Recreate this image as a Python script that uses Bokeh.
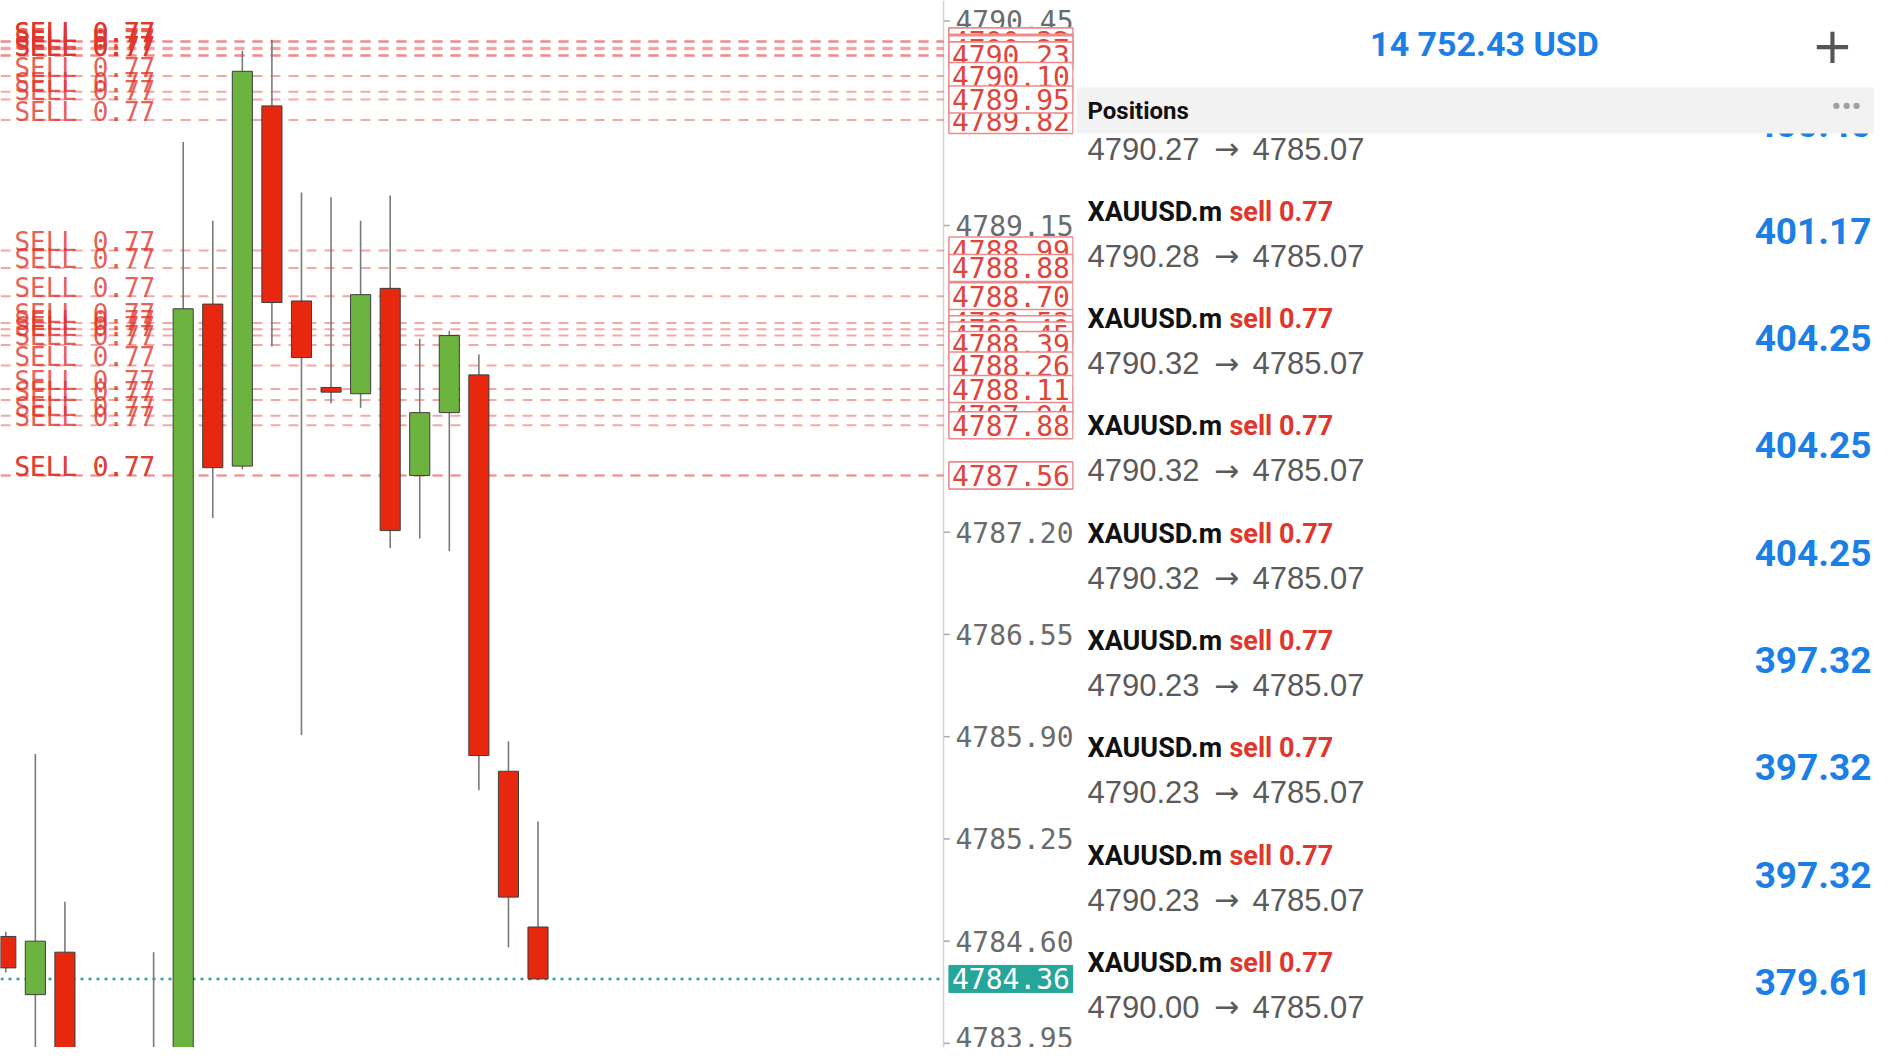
from bokeh.plotting import figure
from bokeh.layouts import row
from bokeh.models import Range1d, FixedTicker, Label, PrintfTickFormatter, ColumnDataSource
from bokeh.core.properties import value
from bokeh.embed import file_html
from bokeh.resources import INLINE

# ---------------- data ----------------
candle_idx = list(range(19))
opens  = [4784.63, 4784.26, 4784.53, 4783.45, 4783.20, 4783.60, 4783.10, 4788.65, 4787.62, 4789.91,
          4788.67, 4788.12, 4788.08, 4788.75, 4787.56, 4787.96, 4788.20, 4785.68, 4784.69]
highs  = [4784.66, 4785.79, 4784.85, 4783.70, 4783.75, 4784.53, 4789.68, 4789.18, 4790.26, 4790.33,
          4789.36, 4789.33, 4789.18, 4789.34, 4788.43, 4788.48, 4788.33, 4785.87, 4785.36]
lows   = [4784.40, 4783.50, 4783.20, 4783.00, 4782.90, 4782.95, 4783.00, 4787.29, 4787.60, 4788.38,
          4785.91, 4788.02, 4787.99, 4787.10, 4787.16, 4787.08, 4785.56, 4784.56, 4784.36]
closes = [4784.43, 4784.60, 4783.40, 4783.20, 4783.55, 4783.10, 4788.62, 4787.61, 4790.13, 4788.66,
          4788.31, 4788.09, 4788.71, 4787.21, 4787.96, 4788.45, 4785.78, 4784.88, 4784.36]

sell_prices = [4790.32, 4790.32, 4790.32, 4790.28, 4790.27, 4790.23, 4790.23, 4790.23, 4790.00,
               4790.10, 4789.82, 4789.95,
               4788.99, 4788.88, 4788.70, 4788.53, 4788.49, 4788.45, 4788.39, 4788.04, 4787.94,
               4788.26, 4788.11, 4787.88, 4787.56, 4787.56]
sell_label = "SELL 0.77"
current_price = 4784.36
price_ticks = [4783.95, 4784.60, 4785.25, 4785.90, 4786.55, 4787.20, 4789.15, 4790.45]

balance_text = "14 752.43 USD"
header_title = "Positions"
symbols = ["XAUUSD.m"] * 10
sides = ["sell 0.77"] * 10
open_px = ["4790.27", "4790.28", "4790.32", "4790.32", "4790.32", "4790.23", "4790.23", "4790.23", "4790.00", "4790.10"]
now_px = ["4785.07"] * 10
profits = ["400.40", "401.17", "404.25", "404.25", "404.25", "397.32", "397.32", "397.32", "379.61", "387.31"]

# ---------------- styles / layout ----------------
UP, DOWN = "#6db33f", "#e8270f"
SELL_RED = "#e0352a"
TEAL = "#26a69a"
BLUE = "#1c7fe6"
TOTAL_W, H = 1874, 1047
LEFT_W = 1076
X0, X1 = -0.179, 36.11         # candle-index range across the chart + price column
AXIS_X = 31.727                # where the price scale line sits
Y0, Y1 = 4783.924, 4790.580

# ---------------- chart ----------------
p = figure(width=LEFT_W, height=H, x_range=Range1d(X0, X1), y_range=Range1d(Y0, Y1),
           x_axis_location=None, y_axis_location="right", toolbar_location=None,
           output_backend="svg", min_border=0)
p.grid.visible = False
p.outline_line_color = None
ax = p.yaxis[0]
ax.ticker = FixedTicker(ticks=price_ticks, minor_ticks=[])
ax.formatter = PrintfTickFormatter(format="%.2f")
ax.major_label_text_font = "DejaVu Sans Mono"
ax.major_label_text_font_size = "28px"
ax.major_label_text_color = "#6b6b6b"
ax.major_tick_out = 0
ax.major_tick_in = 0
ax.minor_tick_out = 0
ax.minor_tick_in = 0
ax.major_label_standoff = -118
ax.axis_line_color = None
ax.major_tick_line_color = None

# price scale line and its tick marks
p.vspan(x=[AXIS_X], line_color="#d4d4d4", line_width=1.5)
p.segment(x0=[AXIS_X] * len(price_ticks), x1=[AXIS_X + 0.2] * len(price_ticks),
          y0=price_ticks, y1=price_ticks, line_color="#aaaaaa", line_width=1.5)

# order lines
n_s = len(sell_prices)
p.segment(x0=[X0] * n_s, x1=[AXIS_X] * n_s, y0=sell_prices, y1=sell_prices,
          line_color="#f08a8a", line_width=2, line_dash="10 8", line_alpha=0.75)
# current price line
p.segment(x0=[X0], x1=[AXIS_X], y0=[current_price], y1=[current_price],
          line_color=TEAL, line_width=2.5, line_dash="3 5")

# candles
src = ColumnDataSource(dict(
    x=candle_idx, high=highs, low=lows,
    top=[max(o, c) for o, c in zip(opens, closes)],
    bottom=[min(o, c) for o, c in zip(opens, closes)],
    color=[UP if c >= o else DOWN for o, c in zip(opens, closes)],
))
p.segment(x0="x", y0="high", x1="x", y1="low", source=src, line_color="#7a7a7a", line_width=1.6)
p.vbar(x="x", width=0.68, top="top", bottom="bottom", source=src,
       fill_color="color", line_color="#3d3d3d", line_width=1)

# SELL labels
label_x = X0 + 0.47
p.text(x=[label_x] * n_s, y=[v + 0.054 for v in sell_prices],
       text=[sell_label] * n_s, text_font=value("DejaVu Sans Mono"),
       text_font_size="26px", text_color=SELL_RED, text_alpha=0.8,
       text_align="left", text_baseline="alphabetic")

# price boxes on the price scale
box_x = AXIS_X + 0.17
for v in sell_prices:
    p.add_layout(Label(x=box_x, y=v, x_units="data", y_units="data", text=f"{v:.2f}",
                       text_font="DejaVu Sans Mono", text_font_size="28px", text_color="#e0453c",
                       text_baseline="middle", text_align="left",
                       background_fill_color="white", border_line_color="#ee8a8a",
                       border_line_width=1.5, padding=3))
p.add_layout(Label(x=box_x, y=current_price, x_units="data", y_units="data",
                   text=f"{current_price:.2f}", text_font="DejaVu Sans Mono", text_font_size="28px",
                   text_color="white", text_baseline="middle", text_align="left",
                   background_fill_color=TEAL, border_line_color=TEAL, padding=3))

# ---------------- positions panel ----------------
q = figure(width=TOTAL_W - LEFT_W, height=H, x_range=Range1d(1076, TOTAL_W), y_range=Range1d(H, 0),
           x_axis_location=None, y_axis_location=None, toolbar_location=None,
           output_backend="svg", min_border=0)
q.grid.visible = False
q.outline_line_color = None

q.text(x=[1484], y=[43], text=[balance_text], text_align="center", text_baseline="middle",
       text_font=value("Roboto"), text_font_style="bold", text_font_size="34px", text_color=BLUE)
q.text(x=[1832], y=[44], text=["+"], text_align="center", text_baseline="middle",
       text_font=value("DejaVu Sans"), text_font_size="50px", text_color="#555555")

n = len(symbols)
title_y = [104 + 107.3 * k for k in range(n)]
price_y = [t + 44 for t in title_y]
q.text(x=[1087] * n, y=title_y, text=symbols, text_align="left", text_baseline="middle",
       text_font=value("Roboto"), text_font_style="bold", text_font_size="27px", text_color="#111111")
q.text(x=[1229] * n, y=title_y, text=sides, text_align="left", text_baseline="middle",
       text_font=value("Roboto"), text_font_style="bold", text_font_size="27px", text_color="#e0362c")
q.text(x=[1087] * n, y=price_y, text=open_px, text_align="left", text_baseline="middle",
       text_font=value("Liberation Sans"), text_font_size="31px", text_color="#5a5a5a")
q.text(x=[1226] * n, y=price_y, text=["\u2192"] * n, text_align="center", text_baseline="middle",
       text_font=value("DejaVu Sans"), text_font_size="30px", text_color="#5a5a5a")
q.text(x=[1252] * n, y=price_y, text=now_px, text_align="left", text_baseline="middle",
       text_font=value("Liberation Sans"), text_font_size="31px", text_color="#5a5a5a")
q.text(x=[1871] * n, y=[t + 19 for t in title_y], text=profits, text_align="right",
       text_baseline="middle", text_font=value("Roboto"), text_font_style="bold",
       text_font_size="37px", text_color=BLUE)

# section band
q.quad(left=[1076], right=[TOTAL_W], top=[87], bottom=[133], fill_color="#f2f2f2", line_color=None)
q.text(x=[1087], y=[110], text=[header_title], text_align="left", text_baseline="middle",
       text_font=value("Roboto"), text_font_style="bold", text_font_size="24px", text_color="#111111")
q.text(x=[1846], y=[106], text=["\u2022\u2022\u2022"], text_align="center", text_baseline="middle",
       text_font=value("Roboto"), text_font_size="30px", text_color="#a0a0a0")

layout = row(p, q)
open("out.html", "w").write(file_html(layout, INLINE))
